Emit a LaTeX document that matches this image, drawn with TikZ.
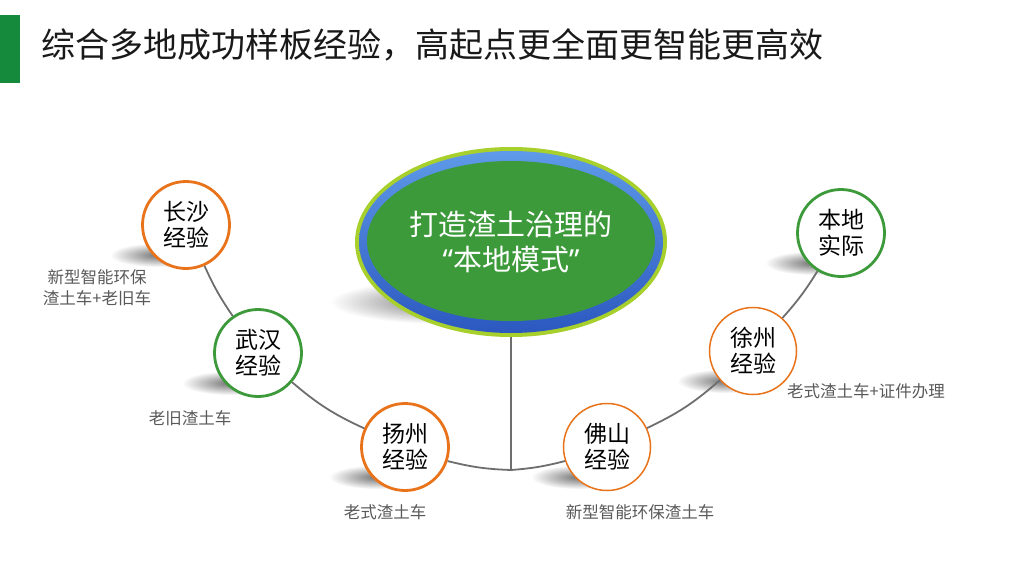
\documentclass[tikz,border=0pt]{standalone}
\usepackage{fontspec}
\setmainfont{Noto Sans CJK SC}
\newfontfamily\virgolette{Noto Sans}
\usetikzlibrary{shapes.geometric}

\definecolor{verdeBarra}{HTML}{168A3C}
\definecolor{verde}{HTML}{3C9A3A}
\definecolor{arancio}{HTML}{E8731A}
\definecolor{giallo}{HTML}{A8D02C}
\definecolor{bluChiaro}{HTML}{5E9AE8}
\definecolor{bluScuro}{HTML}{2C58C0}
\definecolor{grigio}{HTML}{595959}
\definecolor{linea}{HTML}{6E6E6E}

\begin{document}
\begin{tikzpicture}[
    x=1pt, y=-1pt,
    tappa/.style={circle, draw, fill=white, minimum size=87pt, inner sep=0pt,
                  align=center, font=\fontsize{23}{26}\selectfont},
    tappaA/.style={tappa, draw=arancio, line width=2.8pt},
    tappaB/.style={tappa, draw=arancio, line width=1.5pt},
    tappaV/.style={tappa, draw=verde, line width=2.8pt},
    nota/.style={text=grigio, align=center, font=\fontsize{16.5}{21}\selectfont},
    arco/.style={draw=linea, line width=1.8pt},
    ombra/.style={inner color=black!55, outer color=white}
]
  \useasboundingbox (0,0) rectangle (1024,578);

  % titolo
  \fill[verdeBarra] (0,15) rectangle (20,83);
  \node[anchor=west, text=black!90, font=\fontsize{34}{40}\selectfont] (titolo) at (38,45)
    {综合多地成功样板经验，高起点更全面更智能更高效};

  % ombre
  \shade[ombra] (445,302) ellipse (115 and 22);
  \foreach \x/\y in {186/225, 258/353, 405/447, 607/447, 753/351, 841/233}
    \shade[ombra] (\x-28,\y+30) ellipse (48 and 12);

  % ellisse centrale
  \fill[giallo] (511,242) ellipse (156 and 95);
  \shade[top color=bluChiaro, bottom color=bluScuro] (511,242) ellipse (152 and 91);
  \fill[verde] (511,241) ellipse (144 and 80);
  \node[ellipse, minimum width=312pt, minimum height=190pt, text=white,
        align=center, font=\fontsize{29}{35}\selectfont] (core) at (511,242)
    {打造渣土治理的\\{\virgolette “}本地模式{\virgolette ”}};

  % nodi
  \node[tappaA] (cs) at (186,225) {长沙\\经验};
  \node[tappaV] (wh) at (258,353) {武汉\\经验};
  \node[tappaA] (yz) at (405,447) {扬州\\经验};
  \node[tappaB] (fs) at (607,447) {佛山\\经验};
  \node[tappaB] (xz) at (753,351) {徐州\\经验};
  \node[tappaV] (bd) at (841,233) {本地\\实际};
  \coordinate (jn) at (511,470);

  % collegamenti
  \draw[arco] (core.south) -- (jn);
  \draw[arco] (cs) to[bend right=5] (wh);
  \draw[arco] (wh) to[bend right=8] (yz);
  \draw[arco] (yz) to[bend right=6] (jn);
  \draw[arco] (jn) to[bend right=5] (fs);
  \draw[arco] (fs) to[bend right=8] (xz);
  \draw[arco] (xz) to[bend right=5] (bd);

  % etichette
  \node[nota] (n1) at (97,288) {新型智能环保\\渣土车+老旧车};
  \node[nota] (n2) at (190,418) {老旧渣土车};
  \node[nota] (n3) at (385,512) {老式渣土车};
  \node[nota] (n4) at (640,512) {新型智能环保渣土车};
  \node[nota] (n5) at (866,391) {老式渣土车+证件办理};

\end{tikzpicture}
\end{document}
